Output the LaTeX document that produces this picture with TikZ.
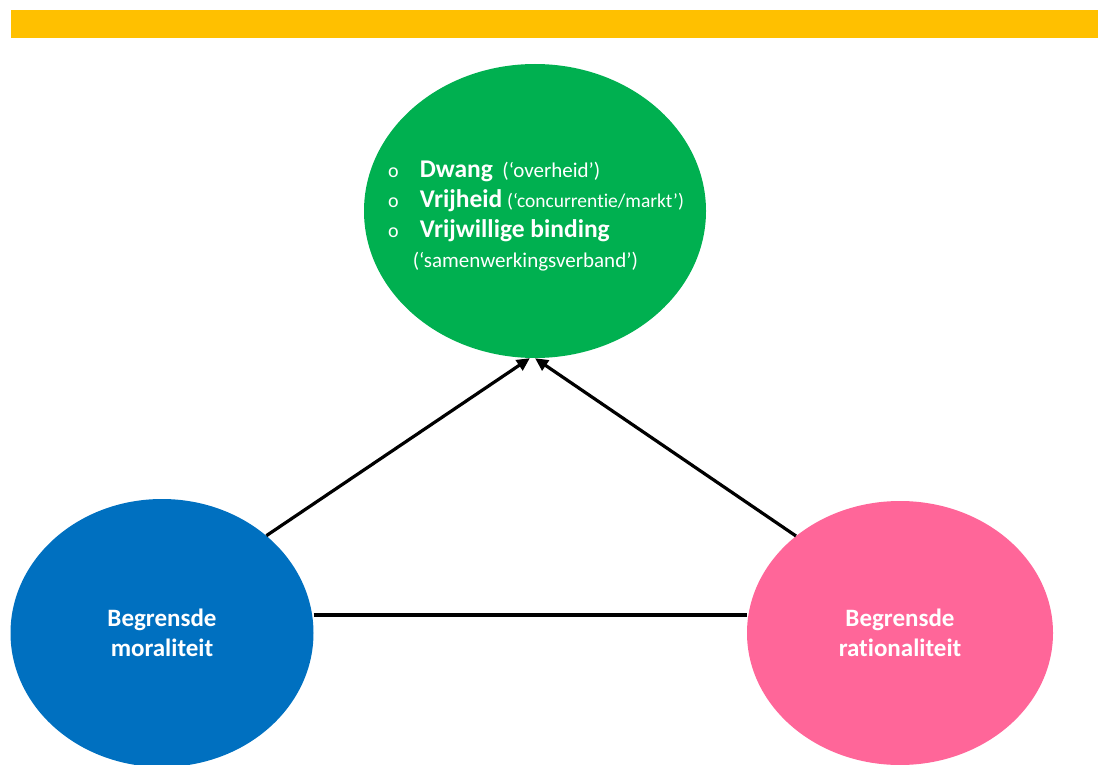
\documentclass[tikz,border=0pt]{standalone}
\usepackage{fontspec}
\setmainfont{Carlito}[Ligatures=NoCommon]
\usepackage{xcolor}
\usetikzlibrary{shapes.geometric, arrows.meta, positioning}

\definecolor{balk}{HTML}{FFC000}
\definecolor{groen}{HTML}{00B050}
\definecolor{blauw}{HTML}{0070C0}
\definecolor{roze}{HTML}{FF6699}

\begin{document}
\begin{tikzpicture}[x=1pt,y=-1pt,
    bol/.style={ellipse, inner sep=0pt, text=white, align=center,
      font=\fontsize{25}{30}\selectfont\bfseries},
    lijn/.style={line width=3.2pt},
    pijl/.style={lijn, -{Triangle[length=13pt,width=12pt]}}]
  \useasboundingbox (0,0) rectangle (1098,765);

  \fill[balk] (11,10) rectangle (1098,38);

  \node[bol, fill=groen, minimum width=342pt, minimum height=294pt] (doel) at (535,211) {};
  \node[bol, fill=blauw, minimum width=303pt, minimum height=268pt] (moraal) at (162,633)
    {Begrensde\\moraliteit};
  \node[bol, fill=roze, minimum width=306pt, minimum height=264pt] (ratio) at (900,633)
    {Begrensde\\rationaliteit};

  \node[anchor=base west, inner sep=0pt, text=white, font=\fontsize{21}{30}\selectfont] (lijst) at (388,178)
    {\begin{tabular}[t]{@{}l@{\hspace{21pt}}l@{}}
      {\fontsize{20}{30}\selectfont o} & {\fontsize{25.5}{30}\selectfont\bfseries Dwang}\ \ (‘overheid’)\\
      {\fontsize{20}{30}\selectfont o} & {\fontsize{25.5}{30}\selectfont\bfseries Vrijheid} {\fontsize{19.5}{30}\selectfont(‘concurrentie/markt’)}\\
      {\fontsize{20}{30}\selectfont o} & {\fontsize{25.5}{30}\selectfont\bfseries Vrijwillige binding}\\
      & \hspace{-7pt}(‘samenwerkingsverband’)
    \end{tabular}};

  \draw[pijl] (moraal.43) -- (doel.-92);
  \draw[pijl] (ratio.137) -- (doel.-90);
  \draw[lijn] ([yshift=18pt]moraal.east) -- ([yshift=18pt]ratio.west);
\end{tikzpicture}
\end{document}
